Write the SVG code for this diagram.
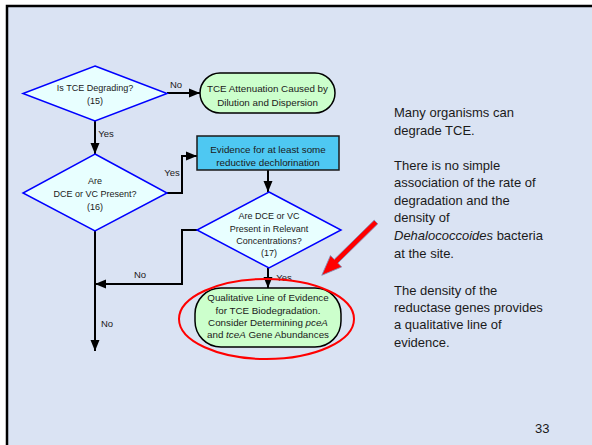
<svg xmlns="http://www.w3.org/2000/svg" width="592" height="445" viewBox="0 0 592 445">
<defs>
<style>
.bg{fill:#DAE3F3;stroke:#000;stroke-width:2.5}
.dia{fill:#E8FFFF;stroke:#0000FF;stroke-width:1.5}
.term{fill:#CCFFCC;stroke:#000;stroke-width:1.5}
.box{fill:#4EC8F2;stroke:#1a1a1a;stroke-width:1.5}
.con{fill:none;stroke:#000;stroke-width:2}
.t{font-family:"Liberation Sans",Arial,sans-serif;font-size:9px;fill:#1a1a1a;text-anchor:middle}
.tb{font-family:"Liberation Sans",Arial,sans-serif;font-size:9.8px;fill:#1a1a1a;text-anchor:middle}
.lbl{font-family:"Liberation Sans",Arial,sans-serif;font-size:9.5px;fill:#1a1a1a;text-anchor:middle}
.side{font-family:"Liberation Sans",Arial,sans-serif;font-size:13px;fill:#1a1a1a}
</style>
<marker id="ah" markerUnits="userSpaceOnUse" markerWidth="12" markerHeight="12" viewBox="0 0 12 12" refX="11" refY="6" orient="auto">
<path d="M0,1.5 L11,6 L0,10.5 Z" fill="#000"/>
</marker>
</defs>
<rect x="0" y="0" width="592" height="445" fill="#fff"/>
<rect class="bg" x="7" y="6" width="600" height="460"/>

<g id="connectors">
<path class="con" d="M167,93 H200" marker-end="url(#ah)"/>
<path class="con" d="M95,121 V154" marker-end="url(#ah)"/>
<path class="con" d="M167,193 H182 V156 H197" marker-end="url(#ah)"/>
<path class="con" d="M268,170 V192" marker-end="url(#ah)"/>
<path class="con" d="M268,268 V288" marker-end="url(#ah)"/>
<path class="con" d="M197,230 H182 V284 H95" marker-end="url(#ah)"/>
<path class="con" d="M95,231 V351" marker-end="url(#ah)"/>
<text class="lbl" x="176" y="88">No</text>
<text class="lbl" x="106" y="137">Yes</text>
<text class="lbl" x="172" y="176">Yes</text>
<text class="lbl" x="284" y="281">Yes</text>
<text class="lbl" x="140" y="278">No</text>
<text class="lbl" x="107" y="327">No</text>
</g>

<g id="d15">
<polygon class="dia" points="95,66 167,93.5 95,121 23,93.5"/>
<text class="t" x="95" y="91">Is TCE Degrading?</text>
<text class="t" x="95" y="104">(15)</text>
</g>

<g id="t_atten">
<rect class="term" x="200" y="73" width="135" height="40" rx="20"/>
<text class="tb" x="267.5" y="92">TCE Attenuation Caused by</text>
<text class="tb" x="267.5" y="106">Dilution and Dispersion</text>
</g>

<g id="d16">
<polygon class="dia" points="95,154 167,193 95,231 23,193"/>
<text class="t" x="95" y="184">Are</text>
<text class="t" x="95" y="197">DCE or VC Present?</text>
<text class="t" x="95" y="210">(16)</text>
</g>

<g id="b_evidence">
<rect class="box" x="197" y="136" width="142" height="34"/>
<text class="tb" x="268" y="153">Evidence for at least some</text>
<text class="tb" x="268" y="166">reductive dechlorination</text>
</g>

<g id="d17">
<polygon class="dia" points="269,192 341,230 269,268 197,230"/>
<text class="t" x="269" y="219">Are DCE or VC</text>
<text class="t" x="269" y="232">Present in Relevant</text>
<text class="t" x="269" y="244">Concentrations?</text>
<text class="t" x="269" y="256">(17)</text>
</g>

<g id="t_qual">
<rect class="term" x="195" y="288" width="146" height="59" rx="26"/>
<text class="tb" x="268" y="301">Qualitative Line of Evidence</text>
<text class="tb" x="268" y="314">for TCE Biodegradation.</text>
<text class="tb" x="268" y="326">Consider Determining <tspan font-style="italic">pceA</tspan></text>
<text class="tb" x="268" y="338">and <tspan font-style="italic">tceA</tspan> Gene Abundances</text>
</g>

<g id="highlight">
<ellipse cx="266.5" cy="319" rx="87.5" ry="40" fill="none" stroke="#FF0000" stroke-width="2"/>
<polygon transform="translate(376,222) rotate(135.5)" points="0,-2.6 56,-2.6 56,-8 76,0 56,8 56,2.6 0,2.6" fill="#FF0000" stroke="#8090B8" stroke-width="0.8"/>
</g>

<g id="sidetext">
<text class="side" x="394" y="117">Many organisms can</text>
<text class="side" x="394" y="135">degrade TCE.</text>
<text class="side" x="394" y="170">There is no simple</text>
<text class="side" x="394" y="187">association of the rate of</text>
<text class="side" x="394" y="205">degradation and the</text>
<text class="side" x="394" y="222">density of</text>
<text class="side" x="394" y="240"><tspan font-style="italic">Dehalococcoides</tspan> bacteria</text>
<text class="side" x="394" y="258">at the site.</text>
<text class="side" x="394" y="295">The density of the</text>
<text class="side" x="394" y="312">reductase genes provides</text>
<text class="side" x="394" y="329">a qualitative line of</text>
<text class="side" x="394" y="347">evidence.</text>
<text class="side" x="535" y="433">33</text>
</g>
</svg>
